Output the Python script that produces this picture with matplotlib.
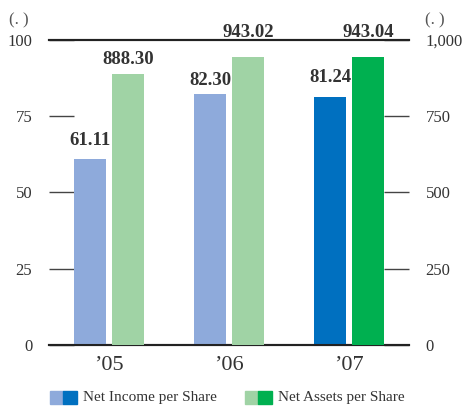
import matplotlib
matplotlib.use("Agg")
import matplotlib.pyplot as plt
from matplotlib.patches import Rectangle
import numpy as np

years = ["\u201905", "\u201906", "\u201907"]
net_income = [61.11, 82.30, 81.24]
net_assets = [888.30, 943.02, 943.04]
left_ticks = [0, 25, 50, 75, 100]
right_ticks = [0, 250, 500, 750, 1000]
right_tick_labels = ["0", "250", "500", "750", "1,000"]

income_colors = ["#8eaadb", "#8eaadb", "#0070c0"]
assets_colors = ["#a0d3a5", "#a0d3a5", "#00b050"]

# vertical gap (points) between each bar top and its value label
income_label_gap = [9.5, 6.5, 11]
assets_label_gap = [7.5, 14.5, 14.5]

plt.rcParams["font.family"] = ["Liberation Serif", "DejaVu Serif"]

fig = plt.figure(figsize=(4.65, 4.07), dpi=100)
ax = fig.add_axes([49 / 465, 62 / 407, 360 / 465, 305 / 407])
ax2 = ax.twinx()

x = np.arange(len(years))
w = 0.26
off = 0.158

ax.bar(x - off, net_income, width=w, color=income_colors, zorder=3)
ax2.bar(x + off, net_assets, width=w, color=assets_colors, zorder=3)

for xi, v, g in zip(x, net_income, income_label_gap):
    ax.annotate(f"{v:.2f}", (xi - off, v), xytext=(0, g), textcoords="offset points",
                ha="center", va="baseline", fontsize=13.5, fontweight="bold", color="#333333",
                annotation_clip=False)
for xi, v, g in zip(x, net_assets, assets_label_gap):
    ax2.annotate(f"{v:.2f}", (xi + off, v), xytext=(0, g), textcoords="offset points",
                 ha="center", va="baseline", fontsize=13.5, fontweight="bold", color="#333333",
                 annotation_clip=False)

ax.set_xlim(-0.5, 2.5)
ax.set_ylim(0, 100)
ax2.set_ylim(0, 1000)
ax.set_xticks(x)
ax.set_xticklabels(years, fontsize=16, color="#333333")
ax.set_yticks(left_ticks)
ax.set_yticklabels([str(t) for t in left_ticks], fontsize=12, color="#333333")
ax2.set_yticks(right_ticks)
ax2.set_yticklabels(right_tick_labels, fontsize=12, color="#333333")

ax.tick_params(axis="x", length=0, pad=8)
ax.tick_params(axis="y", direction="in", length=18, width=1, color="#444444", pad=12)
ax2.tick_params(axis="y", direction="in", length=18, width=1, color="#444444", pad=12)

for a in (ax, ax2):
    a.set_axisbelow(True)
    for s in ("left", "right"):
        a.spines[s].set_visible(False)
    for s in ("top", "bottom"):
        a.spines[s].set_linewidth(1.5)
        a.spines[s].set_color("#222222")

fig.text(19 / 465, 1 - 20 / 407, "(. )", ha="center", va="center", fontsize=12, color="#555555")
fig.text(435 / 465, 1 - 20 / 407, "(. )", ha="center", va="center", fontsize=12, color="#555555")

# legend: paired light/dark swatches
def swatch(x0, light, dark, label):
    y0 = 1 - 404 / 407
    h = 13 / 407
    fig.patches.append(Rectangle((x0 / 465, y0), 13 / 465, h, color=light, transform=fig.transFigure))
    fig.patches.append(Rectangle(((x0 + 13) / 465, y0), 14 / 465, h, color=dark, transform=fig.transFigure))
    fig.text((x0 + 33) / 465, y0 + h / 2, label, ha="left", va="center", fontsize=11, color="#333333")

swatch(50, "#8eaadb", "#0070c0", "Net Income per Share")
swatch(245, "#a0d3a5", "#00b050", "Net Assets per Share")

fig.savefig("out.png", dpi=100)
